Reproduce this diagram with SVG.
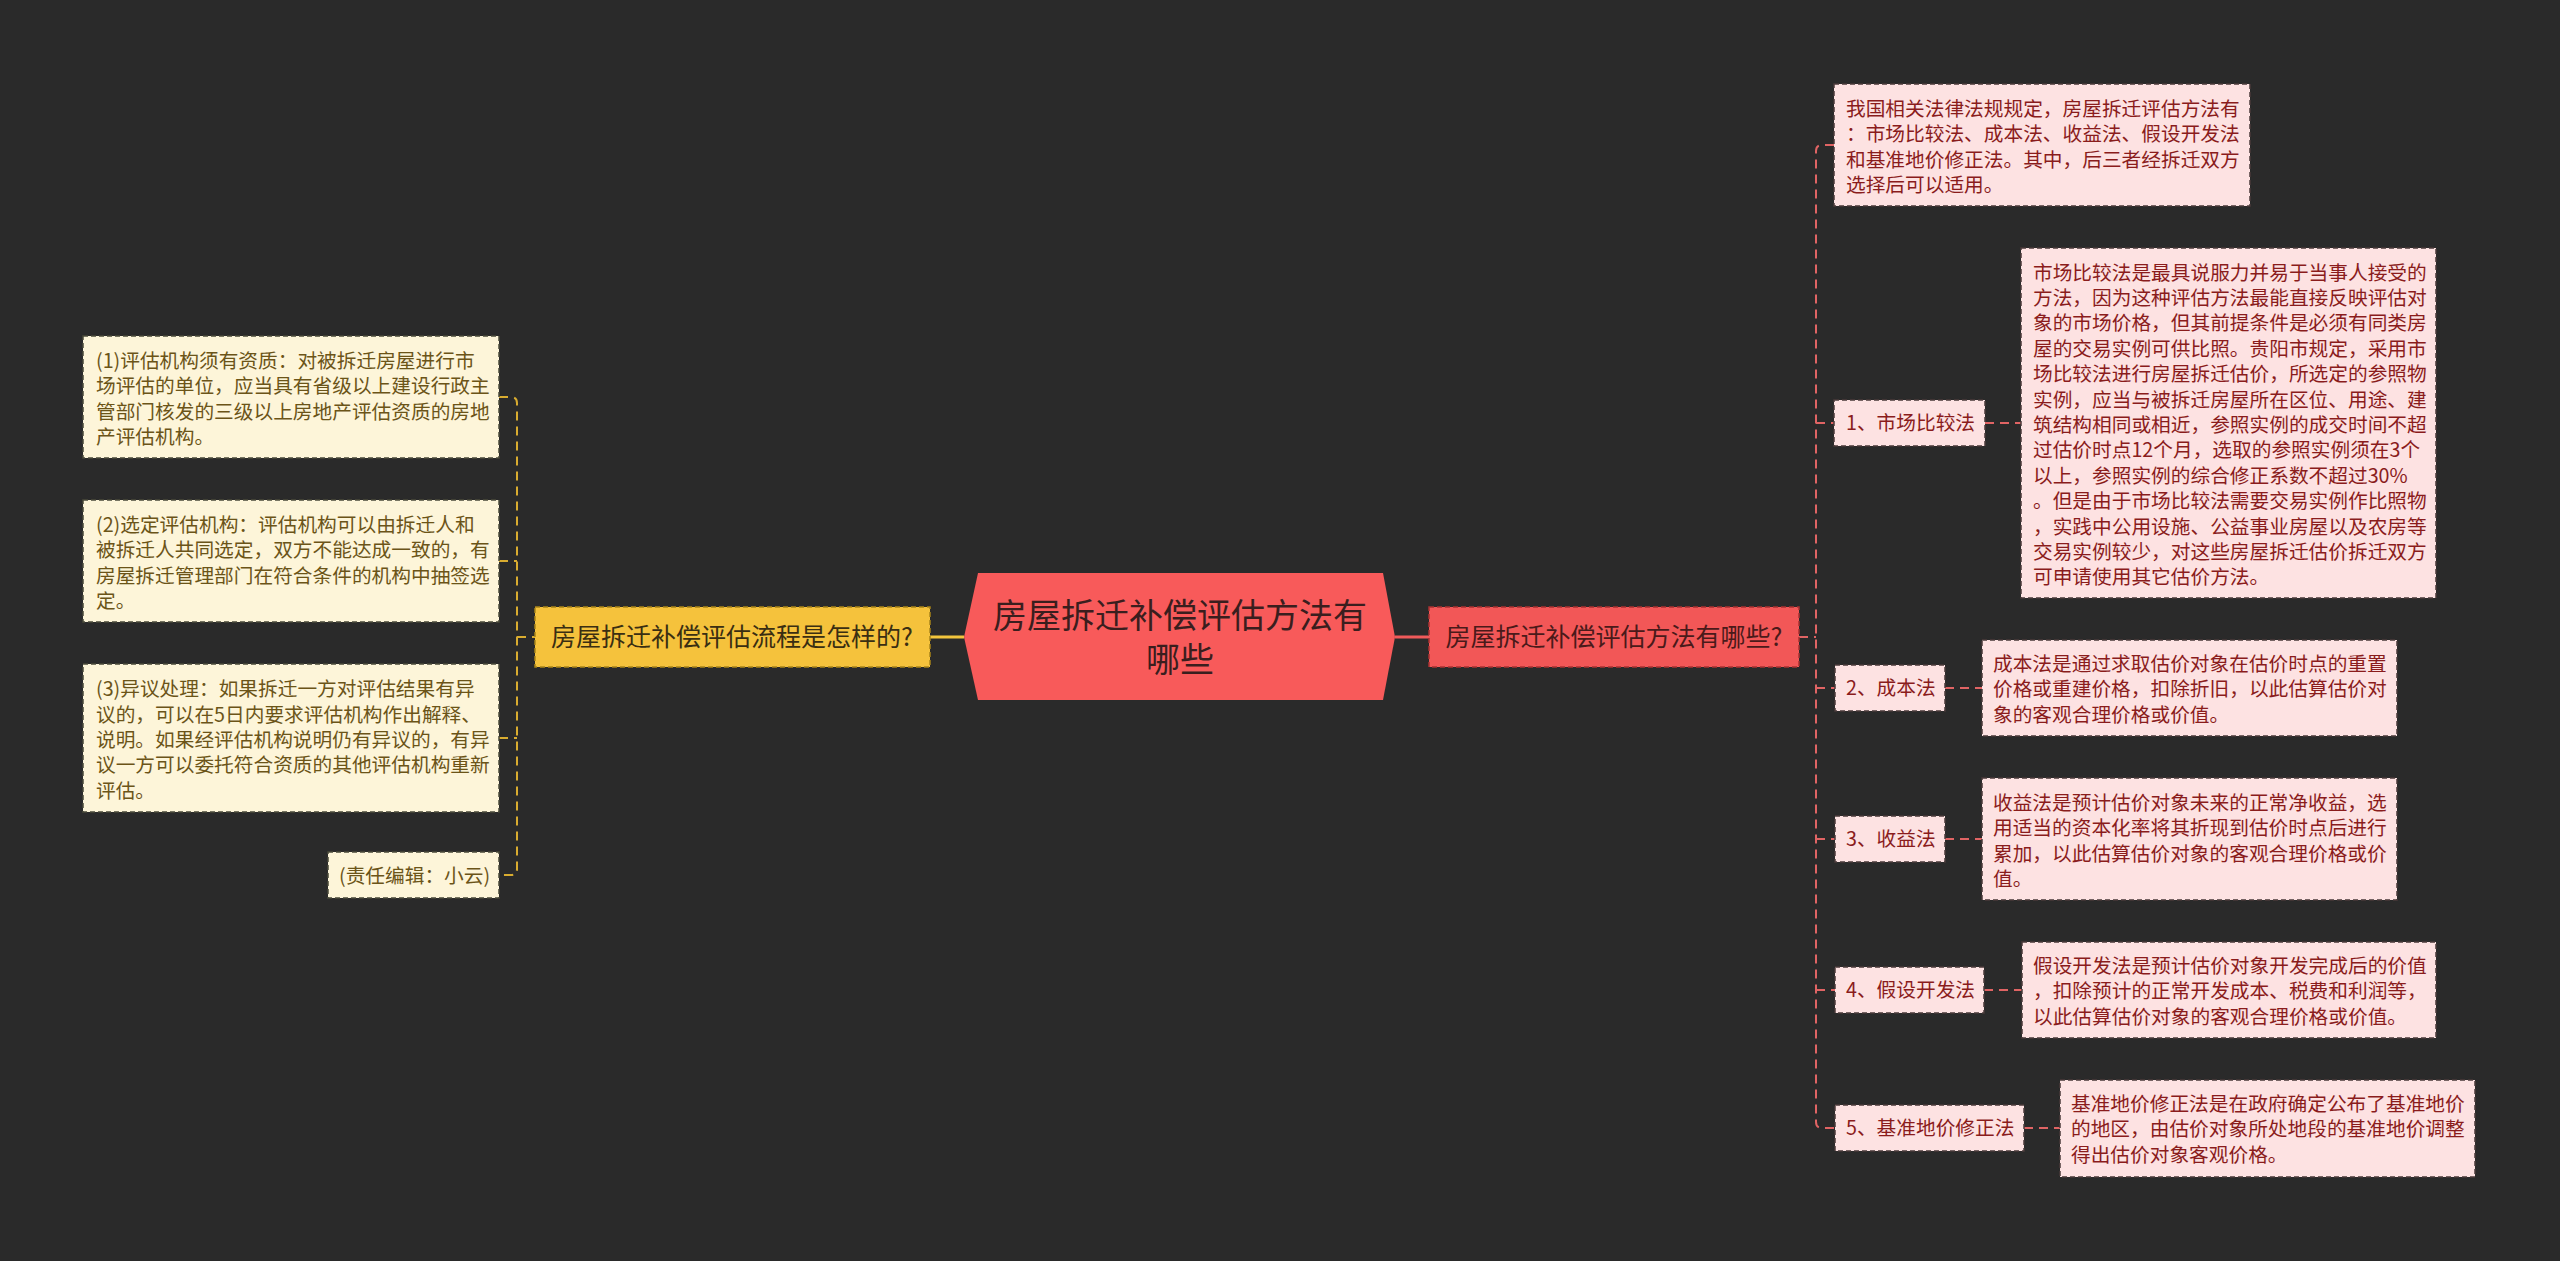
<svg xmlns="http://www.w3.org/2000/svg" width="2560" height="1261" viewBox="0 0 2560 1261">
<style>
  text { font-family: "Microsoft YaHei", "Noto Sans CJK SC", "Noto Sans", sans-serif; }
  .bg { fill: #2a2a2a; }
  .ldet { fill: #fdf5d9; stroke: #4a4a3a; stroke-width: 1.5; stroke-dasharray: 5 3; }
  .rdet { fill: #fde2e2; stroke: #4a3a3a; stroke-width: 1.5; stroke-dasharray: 5 3; }
  .ltxt { fill: #6b5418; font-size: 19.7px; }
  .rtxt { fill: #8a1c1c; font-size: 19.7px; }
  .lcon { fill: none; stroke: #d9ac30; stroke-width: 2; stroke-dasharray: 9 6; }
  .rcon { fill: none; stroke: #e06464; stroke-width: 2; stroke-dasharray: 9 6; }
</style>
<rect class="bg" x="0" y="0" width="2560" height="1261"/>

<g id="connectors">
  <line x1="930" y1="637" x2="964" y2="637" stroke="#f2c53d" stroke-width="3"/>
  <line x1="1395" y1="637" x2="1429" y2="637" stroke="#f05a5a" stroke-width="3"/>
  <path class="lcon" d="M499,397 H511 Q517,397 517,403 V869 Q517,875 511,875 H499"/>
  <path class="lcon" d="M499,561 H517 M499,738 H517 M517,637 H535"/>
  <path class="rcon" d="M1834,145 H1822 Q1816,145 1816,151 V1122 Q1816,1128 1822,1128 H1835"/>
  <path class="rcon" d="M1799,637 H1816 M1816,423 H1834 M1816,688 H1835 M1816,839 H1835 M1816,990 H1835"/>
  <path class="rcon" d="M1985,423 H2021 M1945,688 H1982 M1945,839 H1982 M1984,990 H2022 M2024,1128 H2060"/>
</g>

<g id="center">
  <polygon points="978,573 1383,573 1395,637 1383,700 978,700 964,637" fill="#f85a5a"/>
  <text x="1180" y="628" font-size="34" fill="#3a1e1e" text-anchor="middle">房屋拆迁补偿评估方法有</text>
  <text x="1180" y="672" font-size="34" fill="#3a1e1e" text-anchor="middle">哪些</text>
</g>

<g id="left-main">
  <rect x="535" y="607" width="395" height="60" fill="#f5c23c" stroke="#a88418" stroke-width="1.5" stroke-dasharray="5 3"/>
  <text x="732" y="646" font-size="25" fill="#3a2e12" text-anchor="middle">房屋拆迁补偿评估流程是怎样的?</text>
</g>

<g id="right-main">
  <rect x="1429" y="607" width="370" height="60" fill="#f25757" stroke="#a83232" stroke-width="1.5" stroke-dasharray="5 3"/>
  <text x="1614" y="646" font-size="25" fill="#4a1a1a" text-anchor="middle">房屋拆迁补偿评估方法有哪些?</text>
</g>

<g id="l1">
  <rect class="ldet" x="83" y="336" width="416" height="122"/>
  <text class="ltxt">
    <tspan x="96" y="368">(1)评估机构须有资质：对被拆迁房屋进行市</tspan>
    <tspan x="96" y="393.4">场评估的单位，应当具有省级以上建设行政主</tspan>
    <tspan x="96" y="418.8">管部门核发的三级以上房地产评估资质的房地</tspan>
    <tspan x="96" y="444.2">产评估机构。</tspan>
  </text>
</g>

<g id="l2">
  <rect class="ldet" x="83" y="500" width="416" height="122"/>
  <text class="ltxt">
    <tspan x="96" y="532">(2)选定评估机构：评估机构可以由拆迁人和</tspan>
    <tspan x="96" y="557.4">被拆迁人共同选定，双方不能达成一致的，有</tspan>
    <tspan x="96" y="582.8">房屋拆迁管理部门在符合条件的机构中抽签选</tspan>
    <tspan x="96" y="608.2">定。</tspan>
  </text>
</g>

<g id="l3">
  <rect class="ldet" x="83" y="664" width="416" height="148"/>
  <text class="ltxt">
    <tspan x="96" y="696.2">(3)异议处理：如果拆迁一方对评估结果有异</tspan>
    <tspan x="96" y="721.6">议的，可以在5日内要求评估机构作出解释、</tspan>
    <tspan x="96" y="747">说明。如果经评估机构说明仍有异议的，有异</tspan>
    <tspan x="96" y="772.4">议一方可以委托符合资质的其他评估机构重新</tspan>
    <tspan x="96" y="797.8">评估。</tspan>
  </text>
</g>

<g id="l4">
  <rect class="ldet" x="328" y="852" width="171" height="46"/>
  <text class="ltxt"><tspan x="339" y="883">(责任编辑：小云)</tspan></text>
</g>

<g id="r0">
  <rect class="rdet" x="1834" y="84" width="416" height="122"/>
  <text class="rtxt">
    <tspan x="1846" y="116">我国相关法律法规规定，房屋拆迁评估方法有</tspan>
    <tspan x="1846" y="141.4">：市场比较法、成本法、收益法、假设开发法</tspan>
    <tspan x="1846" y="166.8">和基准地价修正法。其中，后三者经拆迁双方</tspan>
    <tspan x="1846" y="192.2">选择后可以适用。</tspan>
  </text>
</g>

<g id="r1">
  <rect class="rdet" x="1834" y="400" width="151" height="46"/>
  <text class="rtxt"><tspan x="1846" y="430">1、市场比较法</tspan></text>
</g>
<g id="r1d">
  <rect class="rdet" x="2021" y="248" width="415" height="350"/>
  <text class="rtxt">
    <tspan x="2033" y="279.6">市场比较法是最具说服力并易于当事人接受的</tspan>
    <tspan x="2033" y="305">方法，因为这种评估方法最能直接反映评估对</tspan>
    <tspan x="2033" y="330.4">象的市场价格，但其前提条件是必须有同类房</tspan>
    <tspan x="2033" y="355.8">屋的交易实例可供比照。贵阳市规定，采用市</tspan>
    <tspan x="2033" y="381.2">场比较法进行房屋拆迁估价，所选定的参照物</tspan>
    <tspan x="2033" y="406.6">实例，应当与被拆迁房屋所在区位、用途、建</tspan>
    <tspan x="2033" y="432">筑结构相同或相近，参照实例的成交时间不超</tspan>
    <tspan x="2033" y="457.4">过估价时点12个月，选取的参照实例须在3个</tspan>
    <tspan x="2033" y="482.8">以上，参照实例的综合修正系数不超过30%</tspan>
    <tspan x="2033" y="508.2">。但是由于市场比较法需要交易实例作比照物</tspan>
    <tspan x="2033" y="533.6">，实践中公用设施、公益事业房屋以及农房等</tspan>
    <tspan x="2033" y="559">交易实例较少，对这些房屋拆迁估价拆迁双方</tspan>
    <tspan x="2033" y="584.4">可申请使用其它估价方法。</tspan>
  </text>
</g>

<g id="r2">
  <rect class="rdet" x="1835" y="665" width="110" height="46"/>
  <text class="rtxt"><tspan x="1846" y="695">2、成本法</tspan></text>
</g>
<g id="r2d">
  <rect class="rdet" x="1982" y="640" width="415" height="96"/>
  <text class="rtxt">
    <tspan x="1993" y="671">成本法是通过求取估价对象在估价时点的重置</tspan>
    <tspan x="1993" y="696.4">价格或重建价格，扣除折旧，以此估算估价对</tspan>
    <tspan x="1993" y="721.8">象的客观合理价格或价值。</tspan>
  </text>
</g>

<g id="r3">
  <rect class="rdet" x="1835" y="816" width="110" height="46"/>
  <text class="rtxt"><tspan x="1846" y="846">3、收益法</tspan></text>
</g>
<g id="r3d">
  <rect class="rdet" x="1982" y="778" width="415" height="122"/>
  <text class="rtxt">
    <tspan x="1993" y="810">收益法是预计估价对象未来的正常净收益，选</tspan>
    <tspan x="1993" y="835.4">用适当的资本化率将其折现到估价时点后进行</tspan>
    <tspan x="1993" y="860.8">累加，以此估算估价对象的客观合理价格或价</tspan>
    <tspan x="1993" y="886.2">值。</tspan>
  </text>
</g>

<g id="r4">
  <rect class="rdet" x="1835" y="967" width="149" height="46"/>
  <text class="rtxt"><tspan x="1846" y="997">4、假设开发法</tspan></text>
</g>
<g id="r4d">
  <rect class="rdet" x="2022" y="942" width="414" height="96"/>
  <text class="rtxt">
    <tspan x="2033" y="973">假设开发法是预计估价对象开发完成后的价值</tspan>
    <tspan x="2033" y="998.4">，扣除预计的正常开发成本、税费和利润等，</tspan>
    <tspan x="2033" y="1023.8">以此估算估价对象的客观合理价格或价值。</tspan>
  </text>
</g>

<g id="r5">
  <rect class="rdet" x="1835" y="1105" width="189" height="46"/>
  <text class="rtxt"><tspan x="1846" y="1135">5、基准地价修正法</tspan></text>
</g>
<g id="r5d">
  <rect class="rdet" x="2060" y="1080" width="415" height="97"/>
  <text class="rtxt">
    <tspan x="2071" y="1111">基准地价修正法是在政府确定公布了基准地价</tspan>
    <tspan x="2071" y="1136.4">的地区，由估价对象所处地段的基准地价调整</tspan>
    <tspan x="2071" y="1161.8">得出估价对象客观价格。</tspan>
  </text>
</g>
</svg>
